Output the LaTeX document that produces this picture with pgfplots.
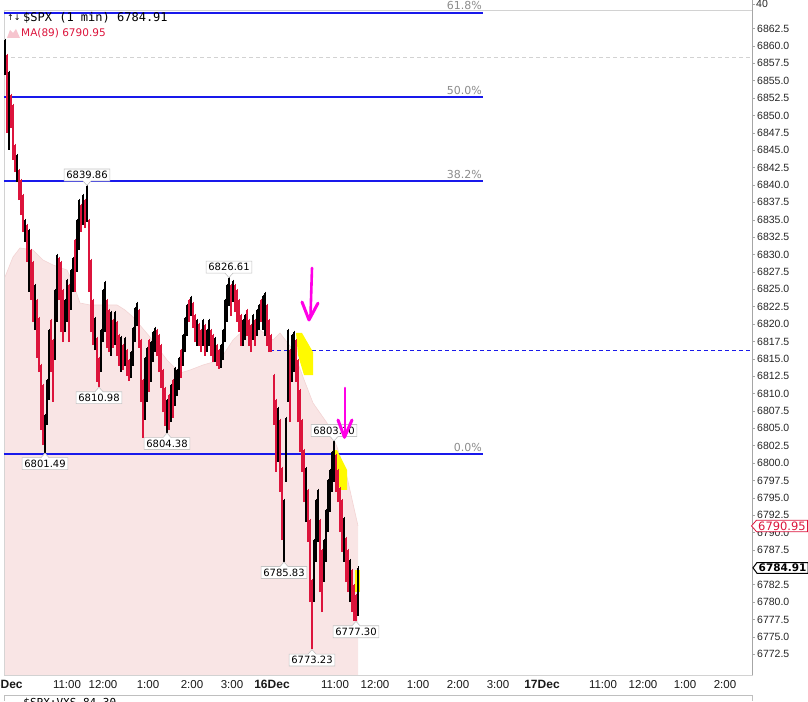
\documentclass[border=0pt]{standalone}
\usepackage{pgfplots}
\pgfplotsset{compat=1.18}
\usepackage{pgfplotstable}
\usepackage{fontspec}
\setmainfont{Liberation Sans}
\newfontfamily\dejavu{DejaVu Sans}
\newfontfamily\dejavumono{DejaVu Sans Mono}
\definecolor{fibblue}{RGB}{25,25,235}
\definecolor{barred}{RGB}{220,20,60}
\definecolor{mafill}{RGB}{249,229,229}
\definecolor{maedge}{RGB}{243,212,212}
\definecolor{annog}{RGB}{195,195,195}
\definecolor{arrowmag}{RGB}{255,0,230}
\definecolor{hiyellow}{RGB}{255,250,0}
\definecolor{fibtext}{RGB}{140,140,140}

\pgfplotstableread{
x lo hi
7 6847.48 6858.71
11 6848.20 6852.95
13 6843.60 6851.51
15 6841.87 6845.76
19 6837.84 6842.16
21 6835.68 6840.72
23 6833.24 6838.56
27 6828.92 6834.24
31 6823.45 6830.65
33 6820.29 6828.92
37 6815.11 6823.45
39 6813.09 6820.86
41 6804.75 6814.10
43 6802.59 6811.22
51 6813.09 6820.58
53 6808.78 6817.70
59 6823.45 6829.50
61 6818.85 6828.92
63 6817.41 6824.89
69 6817.41 6825.61
75 6824.61 6832.09
81 6833.24 6837.12
85 6833.81 6837.84
89 6824.61 6834.96
91 6818.85 6829.21
93 6816.98 6823.45
97 6811.66 6818.00
99 6810.98 6815.11
107 6816.55 6823.45
109 6815.97 6822.02
113 6816.55 6820.58
117 6815.40 6820.29
119 6813.96 6818.42
123 6813.38 6816.98
127 6812.52 6816.26
129 6811.80 6814.82
139 6816.55 6822.02
141 6808.78 6817.70
143 6803.60 6811.94
149 6810.22 6817.70
157 6815.40 6819.14
159 6813.09 6818.42
161 6810.79 6816.98
163 6807.34 6813.38
165 6805.33 6810.79
169 6804.75 6809.79
173 6806.48 6811.94
181 6812.23 6816.26
189 6820.29 6823.45
193 6819.43 6823.02
195 6817.41 6821.30
199 6816.84 6820.00
201 6815.97 6819.14
205 6815.40 6819.86
211 6815.40 6819.14
213 6814.53 6818.42
217 6813.96 6816.98
219 6813.53 6816.26
231 6821.15 6825.61
235 6821.73 6825.61
237 6820.29 6824.89
239 6818.85 6823.45
241 6816.84 6821.30
247 6818.28 6822.02
249 6816.84 6820.58
251 6815.97 6819.86
255 6816.84 6820.58
261 6820.29 6823.45
267 6816.84 6822.74
269 6815.97 6820.58
271 6815.97 6818.42
274 6805.47 6812.66
276 6798.71 6809.07
280 6795.83 6806.19
282 6788.92 6799.28
290 6805.90 6816.26
296 6811.66 6817.70
298 6805.90 6814.82
300 6801.58 6810.51
302 6798.71 6806.19
304 6794.39 6801.87
308 6788.64 6796.12
310 6780.00 6791.80
312 6773.23 6783.17
320 6781.44 6791.80
322 6778.56 6787.49
336 6795.83 6801.15
338 6794.39 6799.00
340 6790.07 6796.41
342 6787.20 6794.68
346 6782.88 6789.21
348 6781.44 6787.49
352 6778.56 6784.61
354 6777.27 6782.45
356 6777.30 6781.01
}\redbars

\pgfplotstableread{
x lo hi
5 6855.83 6860.87
9 6845.04 6856.26
17 6840.43 6844.32
25 6831.80 6834.96
29 6824.61 6833.53
35 6819.14 6825.61
45 6801.49 6806.91
47 6805.47 6811.94
49 6809.07 6819.14
55 6814.82 6824.89
57 6820.29 6829.93
65 6818.85 6823.45
67 6820.29 6826.33
71 6822.02 6827.77
73 6824.61 6829.50
77 6827.48 6834.96
79 6830.65 6837.84
83 6834.24 6838.56
87 6834.68 6839.86
95 6816.26 6820.86
101 6813.09 6819.14
103 6817.41 6824.89
105 6818.85 6826.04
111 6815.40 6821.73
115 6816.98 6821.73
121 6813.09 6818.13
125 6813.96 6817.99
131 6812.23 6815.97
133 6813.96 6819.43
135 6817.41 6822.30
137 6819.71 6823.02
145 6806.19 6815.11
147 6808.78 6816.55
151 6811.66 6817.41
153 6814.53 6818.85
155 6815.97 6819.43
167 6804.38 6809.07
171 6805.90 6811.22
175 6808.20 6813.67
177 6809.64 6813.38
179 6810.51 6815.11
183 6813.96 6818.42
185 6815.97 6820.86
187 6818.28 6822.74
191 6821.15 6823.89
197 6816.84 6820.58
203 6816.84 6820.58
207 6815.97 6819.14
209 6816.84 6820.58
215 6814.53 6817.99
221 6813.67 6816.98
223 6814.82 6819.14
225 6817.41 6823.45
227 6820.29 6825.61
229 6822.59 6826.61
233 6823.17 6826.19
243 6816.84 6820.58
245 6817.70 6821.30
253 6817.70 6821.30
257 6818.28 6822.02
259 6819.14 6822.74
263 6819.14 6824.03
265 6818.28 6824.46
278 6800.15 6807.92
284 6785.83 6794.68
286 6797.27 6806.48
288 6808.78 6819.14
292 6811.66 6818.42
294 6813.09 6818.85
306 6791.51 6799.28
314 6780.00 6788.92
316 6785.76 6794.68
318 6788.64 6796.12
324 6782.88 6788.92
326 6785.76 6793.24
328 6790.07 6797.56
330 6792.95 6799.00
332 6795.83 6801.58
334 6797.27 6803.10
344 6785.76 6792.09
350 6780.00 6786.05
358 6778.00 6784.91
}\blackbars

\pgfplotstableread{
x ma
5 6826.77
13 6829.64
20 6830.94
33 6830.65
43 6829.21
53 6828.49
67 6827.77
73 6825.90
80 6823.02
90 6822.74
117 6822.74
125 6822.02
133 6821.01
150 6818.13
167 6814.82
180 6812.95
190 6813.38
203 6814.10
220 6814.82
233 6817.70
247 6819.57
260 6819.14
273 6817.70
280 6818.71
293 6816.26
303 6812.38
313 6808.64
327 6805.76
337 6802.31
347 6797.99
358 6790.95
}\matable

\newcommand{\annofont}{\dejavu\fontsize{10}{12}\selectfont}
\newcommand{\annoabove}[3]{%
  \node[anchor=south, inner xsep=2pt, inner ysep=2pt, font=\annofont] (an) at ([yshift=5pt]axis cs:#1,#2) {\phantom{#3}};
  \draw[annog, fill=white, line width=0.6pt] (an.south west) -- (an.north west) -- (an.north east) -- (an.south east) -- ([xshift=4pt]an.south) -- ([yshift=0.5pt]axis cs:#1,#2) -- ([xshift=-4pt]an.south) -- cycle;
  \node[font=\annofont, text=black] at (an.center) {#3};}
\newcommand{\annobelow}[3]{%
  \node[anchor=north, inner xsep=2pt, inner ysep=2pt, font=\annofont] (an) at ([yshift=-5pt]axis cs:#1,#2) {\phantom{#3}};
  \draw[annog, fill=white, line width=0.6pt] (an.north west) -- (an.south west) -- (an.south east) -- (an.north east) -- ([xshift=4pt]an.north) -- ([yshift=-0.5pt]axis cs:#1,#2) -- ([xshift=-4pt]an.north) -- cycle;
  \node[font=\annofont, text=black] at (an.center) {#3};}

\begin{document}
\begin{tikzpicture}
\path[use as bounding box] (0pt,0pt) rectangle (808pt,701pt);
\begin{axis}[
  at={(4pt,26pt)}, anchor=south west, scale only axis,
  width=748pt, height=665pt,
  xmin=4, xmax=752, ymin=6769.5, ymax=6865.18,
  clip mode=individual,
  axis line style={draw=gray!35},
  ytick={6772.5,6775,6777.5,6780,6782.5,6785,6787.5,6790,6792.5,6795,6797.5,6800,6802.5,6805,6807.5,6810,6812.5,6815,6817.5,6820,6822.5,6825,6827.5,6830,6832.5,6835,6837.5,6840,6842.5,6845,6847.5,6850,6852.5,6855,6857.5,6860,6862.5},
  ytick pos=right, yticklabel pos=right,
  tick align=outside, major tick length=3pt,
  ytick style={draw=gray!70, line width=0.5pt},
  xtick style={draw=none},
  /pgf/number format/assume math mode=true,
  yticklabel style={font=\fontsize{10.5}{12}\selectfont, text=black!85, inner xsep=2pt,
     /pgf/number format/.cd, fixed, fixed zerofill, precision=1, 1000 sep={}},
  xtick={5,67,103,148,192,232,272,335,375,418,458,498,542,603,643,685,725},
  xticklabels={\textbf{\fontsize{12}{14}\selectfont 15Dec},11:00,12:00,1:00,2:00,3:00,\textbf{\fontsize{12}{14}\selectfont 16Dec},11:00,12:00,1:00,2:00,3:00,\textbf{\fontsize{12}{14}\selectfont 17Dec},11:00,12:00,1:00,2:00},
  xticklabel style={font=\fontsize{11.5}{13}\selectfont, text=black!90, inner ysep=2pt},
]
% MA(89) area
\addplot[fill=mafill, draw=none] table[x=x, y=ma] {\matable} -- (axis cs:358,6769.5) -- (axis cs:5,6769.5) -- cycle;
\addplot[maedge, line width=0.6pt] table[x=x, y=ma] {\matable};
% reference lines
\addplot[gray!35, dash pattern=on 4pt off 3pt, line width=0.7pt] coordinates {(4,6858.42) (752,6858.42)};
\addplot[fibblue, line width=1.1pt] coordinates {(4,6864.75) (483,6864.75)};
\addplot[fibblue, line width=1.1pt] coordinates {(4,6852.66) (483,6852.66)};
\addplot[fibblue, line width=1.1pt] coordinates {(4,6840.58) (483,6840.58)};
\addplot[fibblue, line width=1.1pt] coordinates {(4,6801.30) (483,6801.30)};
\addplot[fibblue, line width=1pt, dash pattern=on 4pt off 3pt] coordinates {(270,6816.12) (752,6816.12)};
% yellow highlights
\fill[hiyellow] (axis cs:296,6818.71) -- (axis cs:302,6818.71) -- (axis cs:313,6815.97) -- (axis cs:313,6812.66) -- (axis cs:304,6812.66) -- (axis cs:298,6815.54) -- cycle;
\fill[hiyellow] (axis cs:333,6801.87) -- (axis cs:337,6801.87) -- (axis cs:347,6799.00) -- (axis cs:347,6796.12) -- (axis cs:340,6796.12) -- (axis cs:335,6799.00) -- cycle;
\fill[hiyellow] (axis cs:355,6784.61) -- (axis cs:360,6784.61) -- (axis cs:360,6781.44) -- (axis cs:355,6781.44) -- cycle;
% price bars
\addplot[draw=none, no marks, error bars/.cd, y dir=plus, y explicit, error mark=-,
   error mark options={draw=barred, mark size=1.4pt, line width=0.8pt},
   error bar style={draw=barred, line width=1.5pt}]
   table[x=x, y=lo, y error expr=\thisrow{hi}-\thisrow{lo}] {\redbars};
\addplot[draw=none, no marks, error bars/.cd, y dir=plus, y explicit, error mark=-,
   error mark options={draw=black, mark size=1.4pt, line width=0.8pt},
   error bar style={draw=black, line width=1.5pt}]
   table[x=x, y=lo, y error expr=\thisrow{hi}-\thisrow{lo}] {\blackbars};
% annotations
\annoabove{87}{6839.86}{6839.86}
\annoabove{229}{6826.61}{6826.61}
\annobelow{99}{6810.98}{6810.98}
\annobelow{167}{6804.38}{6804.38}
\annobelow{45}{6801.49}{6801.49}
\annobelow{284}{6785.83}{6785.83}
\annoabove{334}{6803.10}{6803.10}
\annobelow{356}{6777.30}{6777.30}
\annobelow{312}{6773.23}{6773.23}
% magenta arrows
\draw[arrowmag, line width=2.6pt, line cap=round] (axis cs:312,6828.06) -- (axis cs:310.5,6821.2);
\draw[arrowmag, line width=3pt, line cap=round, line join=round] (axis cs:302,6823.17) -- (axis cs:309,6820.58) -- (axis cs:318,6823.0);
\draw[arrowmag, line width=2.6pt, line cap=round] (axis cs:345,6810.79) -- (axis cs:345,6804.3);
\draw[arrowmag, line width=3pt, line cap=round, line join=round] (axis cs:338,6806.19) -- (axis cs:344.5,6803.7) -- (axis cs:352,6806.19);
% fib labels
\node[anchor=south east, inner sep=1pt, yshift=2.5pt, text=fibtext, font=\dejavu\fontsize{11}{13}\selectfont] at (axis cs:483,6864.75) {61.8\%};
\node[anchor=south east, inner sep=1pt, yshift=1.5pt, text=fibtext, font=\dejavu\fontsize{11}{13}\selectfont] at (axis cs:483,6852.66) {50.0\%};
\node[anchor=south east, inner sep=1pt, yshift=1.5pt, text=fibtext, font=\dejavu\fontsize{11}{13}\selectfont] at (axis cs:483,6840.58) {38.2\%};
\node[anchor=south east, inner sep=1pt, yshift=1.5pt, text=fibtext, font=\dejavu\fontsize{11}{13}\selectfont] at (axis cs:483,6801.30) {0.0\%};
% right border and markers
\draw[gray!70, line width=0.6pt] (axis cs:752,6769.5) -- (axis cs:752,6866.62);
\coordinate (mapt) at (axis cs:752,6790.95);
\coordinate (lastpt) at (axis cs:752,6784.91);
\end{axis}
% right-side value boxes
\node[anchor=west, inner xsep=1.5pt, inner ysep=1.2pt, font=\dejavu\fontsize{11.5}{13}\selectfont] (b1) at ([xshift=4.5pt]mapt) {\phantom{6790.95}};
\draw[barred, fill=white, line width=0.8pt] (b1.north west) -- (b1.north east) -- (b1.south east) -- (b1.south west) -- ([xshift=-5pt]b1.west) -- cycle;
\node[text=barred, font=\dejavu\fontsize{11.5}{13}\selectfont] at (b1.center) {6790.95};
\node[anchor=west, inner xsep=1.5pt, inner ysep=1.2pt, font=\dejavu\bfseries\fontsize{10.5}{12}\selectfont] (b2) at ([xshift=5pt]lastpt) {\phantom{6784.91}};
\draw[black, fill=white, line width=1pt] (b2.north west) -- (b2.north east) -- (b2.south east) -- (b2.south west) -- ([xshift=-4pt]b2.west) -- cycle;
\node[text=black, font=\dejavu\bfseries\fontsize{10.5}{12}\selectfont] at (b2.center) {6784.91};
% upper panel remnants
\draw[gray!70, line width=0.6pt] (752pt,691pt) -- (752pt,701pt);
\draw[gray!70, line width=0.5pt] (752pt,697pt) -- (755pt,697pt);
\node[anchor=west, inner sep=0pt, font=\fontsize{10.5}{12}\selectfont, text=black!85] at (756pt,697pt) {40};
% legend
\node[anchor=west, inner sep=0pt, font=\dejavu\fontsize{8}{9}\selectfont] at (7pt,683pt) {↑↓};
\node[anchor=west, inner sep=0pt, font=\dejavumono\fontsize{12}{14}\selectfont] at (23pt,683pt) {\$SPX (1 min) 6784.91};
\fill[barred!25] (7pt,663pt) -- (10pt,671pt) -- (13pt,668pt) -- (16pt,672pt) -- (20pt,663pt) -- cycle;
\node[anchor=west, inner sep=0pt, text=barred, font=\dejavu\fontsize{10.5}{12}\selectfont] at (21pt,668pt) {MA(89) 6790.95};
% lower panel remnants
\draw[gray!50, line width=0.6pt] (4pt,0pt) -- (4pt,6pt) -- (752pt,6pt) -- (752pt,0pt);
\node[anchor=north west, inner sep=0pt, font=\dejavumono\fontsize{11}{13}\selectfont] at (10pt,3pt) {— \$SPX:VXS 84.30};
\end{tikzpicture}
\end{document}
